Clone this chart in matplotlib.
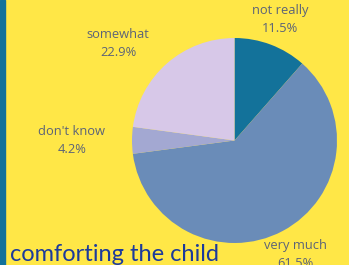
import matplotlib
matplotlib.use("Agg")
from matplotlib import pyplot as plt
from matplotlib.patches import Rectangle

labels = ["not really", "very much", "don't know", "somewhat"]
shares = [11.5, 61.5, 4.2, 22.9]
colors = ["#13729A", "#6A8CB8", "#A3A8D2", "#D7C8E8"]
title = "comforting the child"

bg = "#FFE747"
fig = plt.figure(figsize=(3.49, 2.65), dpi=100, facecolor=bg)

# left stripe
fig.patches.append(Rectangle((0, 0), 5 / 349, 1, transform=fig.transFigure,
                             color="#13729A", zorder=0))

ax = fig.add_axes([132 / 349, 22 / 265, 205 / 349, 205 / 265])
ax.set_facecolor(bg)
txt = [l + "\n" + f"{v:.1f}%" for l, v in zip(labels, shares)]
wedges, texts = ax.pie(shares, colors=colors, startangle=90, counterclock=False,
                       labels=txt, labeldistance=1.26,
                       wedgeprops=dict(linewidth=0),
                       textprops=dict(family="Open Sans", fontsize=9.3, color="#5B6378",
                                      multialignment="center", linespacing=1.5))
# labels on the right side are centred on the slice direction
for t in texts:
    x, y = t.get_position()
    if x > 0:
        t.set_horizontalalignment("center")
ax.set_xlim(-1, 1)
ax.set_ylim(-1, 1)
ax.set_aspect("equal")
ax.axis("off")

fig.text(10 / 349, 4 / 265, title, family="Lato", fontsize=17, color="#1B3A9C",
         ha="left", va="baseline")

fig.savefig("out.png", dpi=100, facecolor=bg)
